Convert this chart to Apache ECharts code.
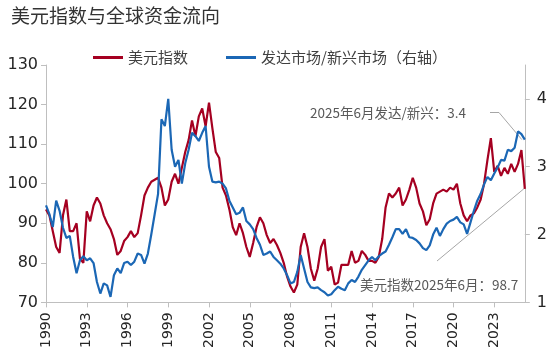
<!DOCTYPE html>
<html>
<head>
<meta charset="utf-8">
<script src="https://cdn.jsdelivr.net/npm/echarts@6/dist/echarts.min.js"></script>
<style>
html, body { margin: 0; padding: 0; background: #fff; }
#chart { width: 550px; height: 351px; }
</style>
</head>
<body>
<div id="chart"></div>
<script>
// 季度数据 1990Q1 - 2025Q2
var quarters = []
for (var y = 1990; y <= 2025; y++) {
	for (var q = 1; q <= 4; q++) {
		if (y === 2025 && q > 2) break
		quarters.push(y + 'Q' + q)
	}
}

// 美元指数（左轴）
var dxy = [
	93.5, 92, 88, 84,
	82.5, 92, 96, 88,
	88, 90, 81, 80,
	93, 90.5, 94.5, 96.5,
	95, 92, 90, 88.5,
	86, 82, 83, 85.5,
	86.5, 88, 86.5, 87.5,
	92, 97, 99, 100.5,
	101, 101.5, 99, 94.5,
	96, 100.5, 102.5, 100,
	104, 108, 111, 116,
	112, 117, 119, 114.5,
	120.5, 114, 108, 106.5,
	99, 97, 93.5, 89,
	87, 90, 87.5, 84,
	81.5, 85, 89, 91.5,
	90, 87, 85, 86,
	84.5, 82.5, 80, 76.5,
	74, 72.5, 74.5, 84,
	87.5, 84, 78.5, 75.5,
	78.5, 84, 86, 78,
	79, 74.5, 75, 79.5,
	79.5, 79.5, 83, 80,
	80.5, 83, 82, 80.5,
	80.5, 80, 81.5, 86,
	94, 97.5, 96.5, 97.5,
	99, 94.5, 96, 98.5,
	101.5, 99, 95, 93,
	89.5, 91, 95, 97.5,
	98, 98.5, 98, 99,
	98.5, 100, 95, 92,
	90.5, 92, 92.5, 94,
	96, 100, 106, 111.5,
	103, 104.5, 102, 104,
	102.5, 105, 103, 105,
	108.5, 98.7
]

// 发达市场/新兴市场（右轴）
var dmEm = [
	2.43, 2.30, 2.11, 2.50,
	2.35, 2.10, 1.95, 1.98,
	1.67, 1.43, 1.62, 1.68,
	1.62, 1.65, 1.58, 1.30,
	1.13, 1.28, 1.25, 1.08,
	1.40, 1.50, 1.43, 1.58,
	1.60, 1.55, 1.60, 1.72,
	1.70, 1.57, 1.72, 2.00,
	2.30, 2.60, 3.70, 3.60,
	4.00, 3.25, 3.00, 3.10,
	2.75, 3.05, 3.25, 3.50,
	3.45, 3.38, 3.50, 3.60,
	3.00, 2.78, 2.77, 2.78,
	2.75, 2.68, 2.50, 2.40,
	2.30, 2.32, 2.40, 2.20,
	2.15, 2.08, 1.95, 1.85,
	1.70, 1.72, 1.75, 1.67,
	1.62, 1.57, 1.50, 1.40,
	1.28, 1.30, 1.45, 1.70,
	1.50, 1.30, 1.22, 1.21,
	1.22, 1.18, 1.15, 1.10,
	1.12, 1.18, 1.23, 1.20,
	1.18, 1.28, 1.33, 1.30,
	1.38, 1.48, 1.55, 1.62,
	1.67, 1.62, 1.68, 1.72,
	1.75, 1.85, 1.96, 2.08,
	2.08, 2.01, 2.08, 1.96,
	1.95, 1.92, 1.87, 1.80,
	1.77, 1.84, 2.00, 2.10,
	1.98, 2.08, 2.16, 2.20,
	2.22, 2.26, 2.18, 2.15,
	2.01, 2.18, 2.35, 2.50,
	2.60, 2.74, 2.85, 2.80,
	2.90, 2.99, 3.10, 3.09,
	3.25, 3.23, 3.28, 3.52,
	3.48, 3.40
]

var leftTicks = [70, 80, 90, 100, 110, 120, 130]
var rightTicks = [1, 2, 3, 4]

var fontCJK = '"Noto Sans CJK SC", sans-serif'
var fontNum = '"DejaVu Sans", sans-serif'

var myChart = echarts.init(document.getElementById('chart'))
var option = {
	animation: false,
	title: {
		text: '美元指数与全球资金流向',
		left: 6,
		top: 1,
		textStyle: { fontFamily: fontCJK, fontSize: 19, fontWeight: 'normal', color: '#333' }
	},
	legend: {
		left: 88,
		top: 45,
		icon: 'rect',
		itemWidth: 30,
		itemHeight: 3,
		itemGap: 38,
		textStyle: { fontFamily: fontCJK, fontSize: 15, color: '#404040' },
		data: ['美元指数', '发达市场/新兴市场（右轴）']
	},
	grid: { left: 46, right: 25, top: 65, bottom: 48 },
	xAxis: {
		type: 'category',
		data: quarters,
		boundaryGap: false,
		axisLine: { lineStyle: { color: '#bfbfbf' } },
		axisTick: {
			length: 5,
			interval: function (i) { return i % 12 === 0 },
			lineStyle: { color: '#bfbfbf' }
		},
		axisLabel: {
			interval: function (i) { return i % 12 === 0 },
			rotate: 90,
			margin: 10,
			fontFamily: fontNum,
			fontSize: 14,
			color: '#262626',
			formatter: function (v) { return v.slice(0, 4) }
		},
		splitLine: { show: false }
	},
	yAxis: [
		{
			type: 'value',
			min: leftTicks[0],
			max: leftTicks[leftTicks.length - 1],
			interval: 10,
			axisLine: { show: true, lineStyle: { color: '#bfbfbf' } },
			axisTick: { show: true, length: 5, lineStyle: { color: '#bfbfbf' } },
			axisLabel: { fontFamily: fontNum, fontSize: 16, color: '#262626', margin: 8 },
			splitLine: { show: false }
		},
		{
			type: 'value',
			position: 'right',
			min: 1,
			max: 4.5,
			interval: 1,
			axisLine: { show: true, lineStyle: { color: '#bfbfbf' } },
			axisTick: { show: true, length: 5, customValues: rightTicks, lineStyle: { color: '#bfbfbf' } },
			axisLabel: { fontFamily: fontNum, fontSize: 16, color: '#262626', margin: 12, customValues: rightTicks },
			splitLine: { show: false }
		}
	],
	series: [
		{
			name: '美元指数',
			type: 'line',
			data: dxy,
			yAxisIndex: 0,
			symbol: 'none',
			itemStyle: { color: '#a50021' },
			lineStyle: { width: 2.2, color: '#a50021' }
		},
		{
			name: '发达市场/新兴市场（右轴）',
			type: 'line',
			data: dmEm,
			yAxisIndex: 1,
			symbol: 'none',
			itemStyle: { color: '#1b67b5' },
			lineStyle: { width: 2.2, color: '#1b67b5' }
		}
	]
}
myChart.setOption(option)

// 标注：引线指向最后一个数据点
var last = quarters.length - 1
var redEnd = myChart.convertToPixel({ seriesIndex: 0 }, [last, dxy[last]])
var blueEnd = myChart.convertToPixel({ seriesIndex: 1 }, [last, dmEm[last]])
myChart.setOption({
	graphic: [
		{
			type: 'text',
			x: 310,
			y: 113,
			style: { text: '2025年6月发达/新兴：3.4', fontFamily: fontCJK, fontSize: 13.5, fill: '#595959', verticalAlign: 'middle' }
		},
		{
			type: 'polyline',
			shape: { points: [[490, 112.5], [499, 112.5], [blueEnd[0] - 3, blueEnd[1]]] },
			style: { stroke: '#a6a6a6', lineWidth: 1, fill: null }
		},
		{
			type: 'text',
			x: 360,
			y: 285,
			style: { text: '美元指数2025年6月：98.7', fontFamily: fontCJK, fontSize: 13.5, fill: '#595959', verticalAlign: 'middle' }
		},
		{
			type: 'line',
			shape: { x1: 437, y1: 261, x2: redEnd[0] - 1, y2: redEnd[1] },
			style: { stroke: '#a6a6a6', lineWidth: 1 }
		}
	]
})
</script>
</body>
</html>
